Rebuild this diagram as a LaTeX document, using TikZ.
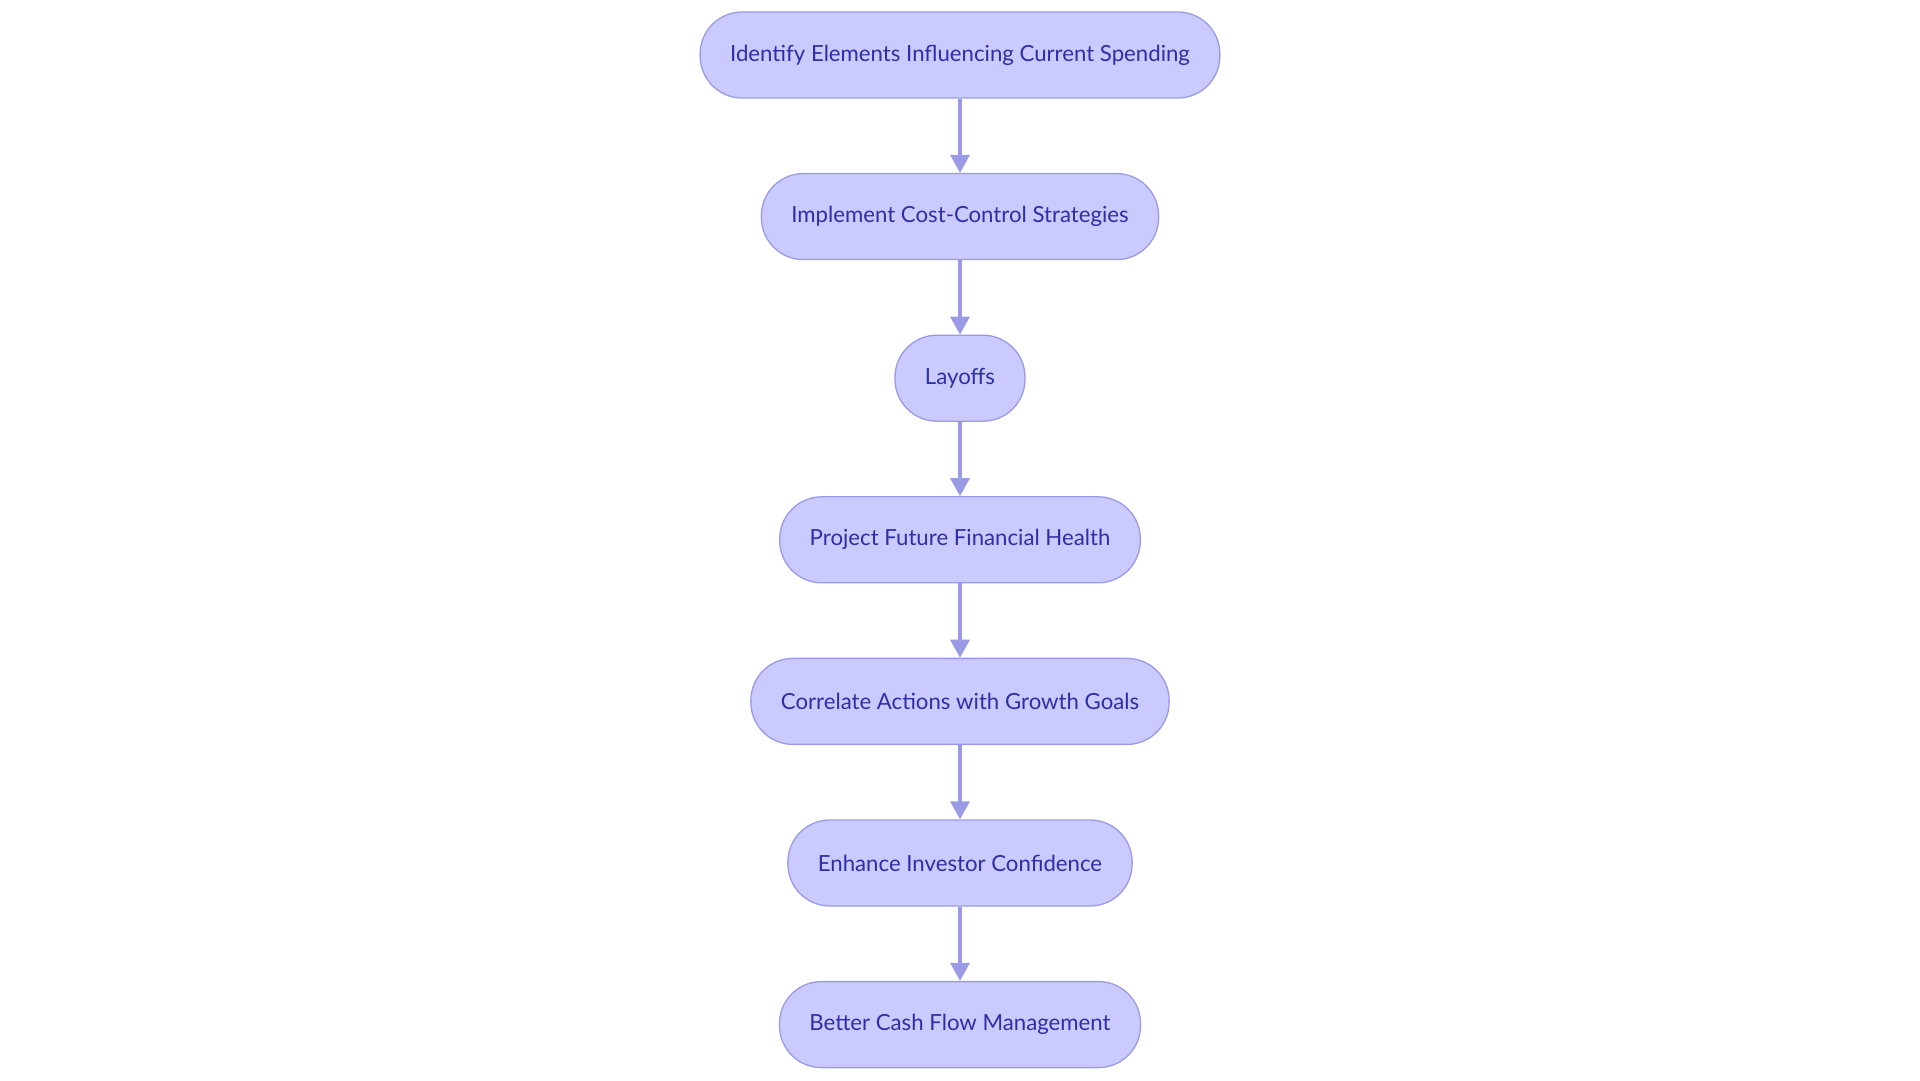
\documentclass[tikz,border=0pt]{standalone}
\usepackage{fontspec}
\setmainfont{Lato}
\usetikzlibrary{positioning,arrows.meta}
\definecolor{boxfill}{HTML}{CACAFE}
\definecolor{boxline}{HTML}{9A9AE6}
\definecolor{boxtext}{HTML}{2E2EA6}

\begin{document}
\begin{tikzpicture}[
	x = 1pt, y = 1pt,
	stepbox/.style = {draw = boxline, fill = boxfill, line width = 1.3pt,
		rounded corners = 42pt, minimum height = 86pt, inner xsep = 30pt,
		text = boxtext, font = \fontsize{22.2}{26}\selectfont},
	link/.style = {draw = boxline, line width = 3.4pt,
		-{Triangle[length = 18pt, width = 19pt]}},
	node distance = 74.3pt
	]
	\useasboundingbox (0,0) rectangle (1920,1080);
	\node[stepbox] (elements) at (960,1025) {Identify Elements Influencing Current Spending};
	\node[stepbox, below = of elements] (costs) {Implement Cost-Control Strategies};
	\node[stepbox, below = of costs] (layoffs) {Layoffs};
	\node[stepbox, below = of layoffs] (health) {Project Future Financial Health};
	\node[stepbox, below = of health] (goals) {Correlate Actions with Growth Goals};
	\node[stepbox, below = of goals] (investor) {Enhance Investor Confidence};
	\node[stepbox, below = of investor] (cashflow) {Better Cash Flow Management};
	% connectors
	\draw[link] (elements) -- (costs);
	\draw[link] (costs) -- (layoffs);
	\draw[link] (layoffs) -- (health);
	\draw[link] (health) -- (goals);
	\draw[link] (goals) -- (investor);
	\draw[link] (investor) -- (cashflow);
\end{tikzpicture}
\end{document}
